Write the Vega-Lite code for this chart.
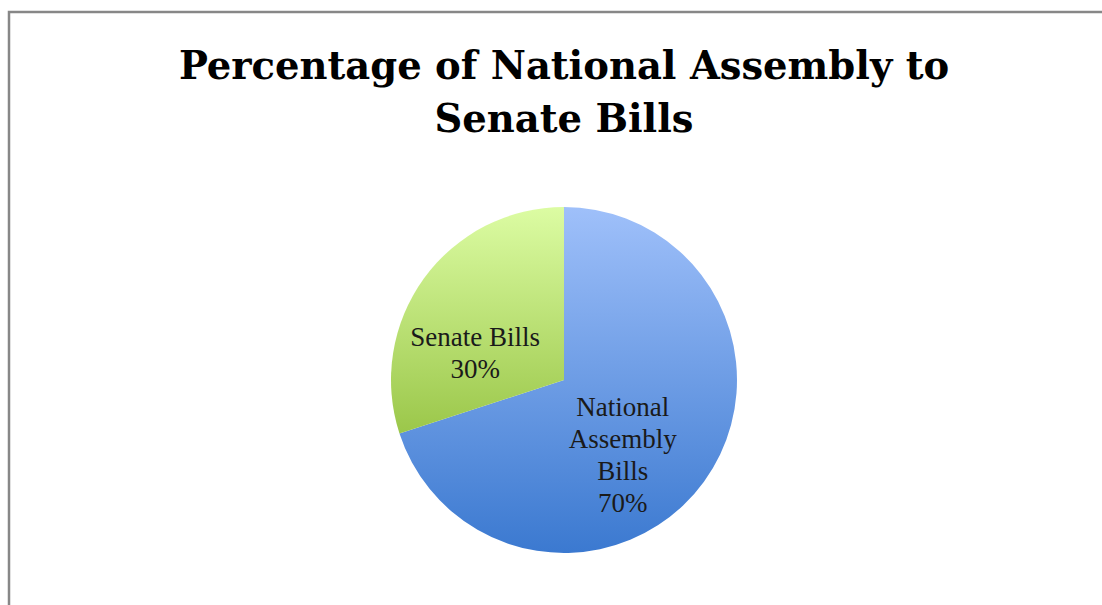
{
  "$schema": "https://vega.github.io/schema/vega-lite/v6.json",
  "width": 1110,
  "height": 736,
  "autosize": "none",
  "padding": {"left": 9, "top": 12, "right": -17, "bottom": -143},
  "background": "white",
  "config": {"view": {"stroke": "#878787", "strokeWidth": 2.5}},
  "view": {"stroke": "#878787", "strokeWidth": 2.5, "fill": "white"},
  "title": {
    "text": ["Percentage of National Assembly to", "Senate Bills"],
    "font": "DejaVu Serif",
    "fontSize": 38.5,
    "fontWeight": "bold",
    "color": "#000000",
    "anchor": "middle",
    "baseline": "top",
    "lineHeight": 53,
    "offset": -128
  },
  "data": {
    "values": [
      {"category": "National Assembly Bills", "percent": 70, "label": "National\nAssembly\nBills\n70%"},
      {"category": "Senate Bills", "percent": 30, "label": "Senate Bills\n30%"}
    ]
  },
  "encoding": {
    "theta": {"field": "percent", "type": "quantitative", "stack": true}
  },
  "layer": [
    {
      "mark": {"type": "arc", "outerRadius": 173},
      "encoding": {
        "fill": {
          "condition": {
            "test": "datum.category === 'Senate Bills'",
            "value": {"gradient": "linear", "x1": 0, "y1": 0, "x2": 0, "y2": 1,
              "stops": [{"offset": 0, "color": "#dcfca3"}, {"offset": 1, "color": "#9bc74a"}]}
          },
          "value": {"gradient": "linear", "x1": 0, "y1": 0, "x2": 0, "y2": 1,
            "stops": [{"offset": 0, "color": "#9fc0fa"}, {"offset": 1, "color": "#3b79d0"}]}
        }
      }
    },
    {
      "mark": {"type": "text", "radius": 90, "dx": -16, "dy": 11, "font": "Liberation Serif", "fontSize": 27, "lineHeight": 32, "lineBreak": "\n", "align": "center", "baseline": "middle", "color": "#1a1a1a"},
      "encoding": {
        "text": {"condition": {"test": "datum.category === 'Senate Bills'", "field": "label", "type": "nominal"}, "value": ""}
      }
    },
    {
      "mark": {"type": "text", "radius": 90, "dx": -14, "dy": -25, "font": "Liberation Serif", "fontSize": 27, "lineHeight": 32, "lineBreak": "\n", "align": "center", "baseline": "middle", "color": "#1a1a1a"},
      "encoding": {
        "text": {"condition": {"test": "datum.category === 'National Assembly Bills'", "field": "label", "type": "nominal"}, "value": ""}
      }
    }
  ]
}
